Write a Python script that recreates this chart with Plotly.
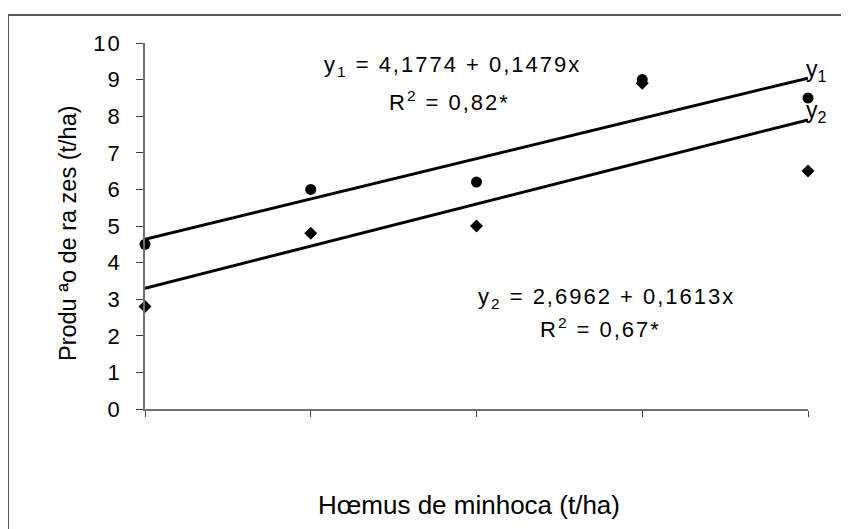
import numpy as np
import plotly.graph_objects as go

# Data
humus = [0, 7.5, 15, 22.5, 30]
y1_vals = [4.5, 6.0, 6.2, 9.0, 8.5]
y2_vals = [2.8, 4.8, 5.0, 8.9, 6.5]
y_ticks = [0, 1, 2, 3, 4, 5, 6, 7, 8, 9, 10]
eq1_text = ["y<sub>1</sub> = 4,1774 + 0,1479x", "R<sup>2</sup> = 0,82*"]
eq2_text = ["y<sub>2</sub> = 2,6962 + 0,1613x", "R<sup>2</sup> = 0,67*"]
x_title = "H\u0153mus de minhoca (t/ha)"
y_title = "Produ \u00aao de ra zes (t/ha)"

FONT = "Liberation Sans, Arial, sans-serif"

def sp(text, px):
    return f'<span style="letter-spacing:{px}px">{text}</span>'

def fit_line(x, y):
    b, a = np.polyfit(x, y, 1)
    xs = np.array([min(x), max(x)])
    return xs, a + b * xs

fig = go.Figure()
for vals, sym, size in [(y1_vals, "circle", 11), (y2_vals, "diamond", 10)]:
    xs, ys = fit_line(humus, vals)
    fig.add_trace(go.Scatter(x=xs, y=ys, mode="lines",
                             line=dict(color="black", width=3), showlegend=False, cliponaxis=False))
    fig.add_trace(go.Scatter(x=humus, y=vals, mode="markers",
                             marker=dict(symbol=sym, size=size, color="black"),
                             showlegend=False, cliponaxis=False))

ann = []
def add(text, x, y, size=22, xref="x", yref="y", angle=0):
    ann.append(dict(text=text, x=x, y=y, xref=xref, yref=yref, showarrow=False,
                    xanchor="center", yanchor="middle", textangle=angle,
                    font=dict(family=FONT, size=size, color="black")))

add(sp(eq1_text[0], 2), 13.9, 9.37)
add(sp(eq1_text[1], 2), 13.8, 8.42)
add(sp(eq2_text[0], 2), 20.9, 3.03)
add(sp(eq2_text[1], 2), 20.6, 2.21)
add("y<sub>1</sub>", (816 - 145) / 663, 9.25, size=23, xref="paper")
add("y<sub>2</sub>", (816 - 145) / 663, 8.12, size=23, xref="paper")
add(y_title, -0.116, 0.481, size=23.5, xref="paper", yref="paper", angle=-90)
add(x_title, 0.489, -0.262, size=26, xref="paper", yref="paper")

fig.update_layout(
    width=849, height=529,
    margin=dict(l=137, r=49, t=35, b=128),
    paper_bgcolor="white", plot_bgcolor="white",
    annotations=ann,
    shapes=[dict(type="rect", xref="paper", yref="paper",
                 x0=(8 - 145) / 663, y0=-0.6, x1=1.3, y1=(409 - 15) / 366,
                 line=dict(color="#555555", width=2), fillcolor="rgba(0,0,0,0)", layer="below")],
    xaxis=dict(range=[0, 30], showgrid=False, zeroline=False, showline=True,
               linecolor="#707070", linewidth=1.5, ticks="outside", ticklen=6,
               tickcolor="#404040", tickvals=humus, showticklabels=False),
    yaxis=dict(range=[0, 10], showgrid=False, zeroline=False, showline=True,
               linecolor="#707070", linewidth=1.5, ticks="outside", ticklen=7,
               tickcolor="#404040", tickvals=y_ticks,
               ticktext=[sp(str(v), 2) for v in y_ticks],
               ticklabelstandoff=10,
               tickfont=dict(family=FONT, size=22, color="black")),
)

fig.write_html("out.html")
